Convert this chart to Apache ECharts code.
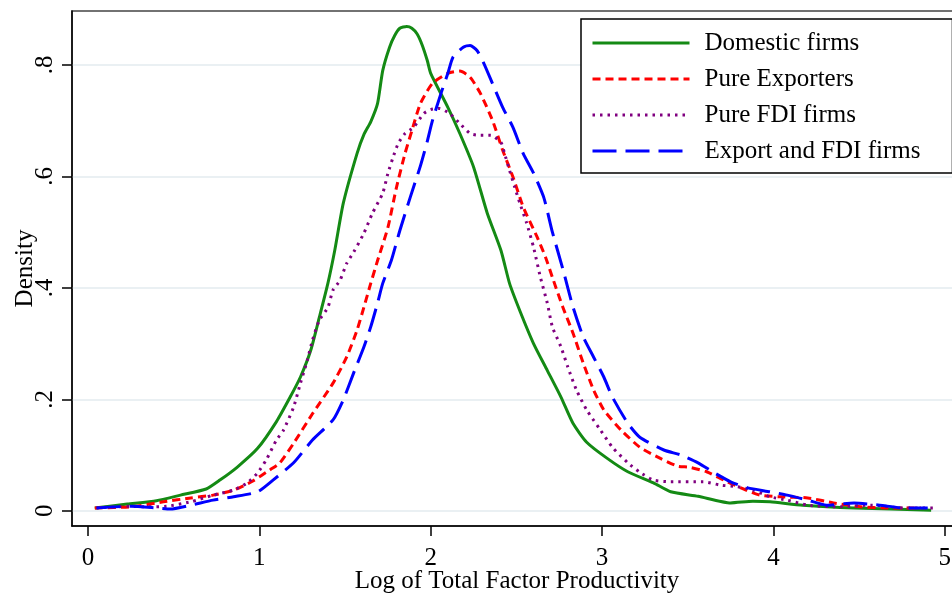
<!DOCTYPE html>
<html>
<head>
<meta charset="utf-8">
<script src="https://cdn.jsdelivr.net/npm/echarts@6/dist/echarts.min.js"></script>
<style>
html,body{margin:0;padding:0;background:#fff;}
#chart{width:952px;height:601px;}
</style>
</head>
<body>
<div id="chart"></div>
<script>
// ---- data ----
var seriesNames = ['Domestic firms', 'Pure Exporters', 'Pure FDI firms', 'Export and FDI firms'];

var domesticX = [0.04,0.23,0.40,0.54,0.69,0.77,0.87,0.99,1.10,1.18,1.24,1.30,1.35,1.40,1.44,1.49,1.57,1.61,1.65,1.69,1.72,1.76,1.79,1.82,1.86,1.89,1.92,1.95,1.98,2.00,2.10,2.17,2.25,2.33,2.41,2.46,2.52,2.60,2.68,2.76,2.83,2.91,3.03,3.15,3.30,3.40,3.56,3.75,3.88,3.98,4.17,4.47,4.92];
var domesticY = [0.005,0.012,0.018,0.028,0.039,0.055,0.078,0.112,0.160,0.204,0.240,0.288,0.347,0.408,0.467,0.552,0.641,0.675,0.698,0.731,0.790,0.832,0.853,0.866,0.869,0.866,0.856,0.836,0.808,0.785,0.724,0.677,0.617,0.534,0.467,0.408,0.359,0.300,0.252,0.204,0.157,0.123,0.094,0.070,0.050,0.034,0.026,0.014,0.017,0.016,0.010,0.005,0.001];

var exportersX = [0.04,0.25,0.44,0.60,0.73,0.85,0.96,1.06,1.12,1.20,1.31,1.43,1.51,1.57,1.61,1.65,1.69,1.75,1.80,1.85,1.89,1.94,2.01,2.10,2.17,2.23,2.29,2.36,2.42,2.48,2.54,2.62,2.67,2.71,2.77,2.83,2.89,2.95,3.01,3.11,3.22,3.34,3.44,3.51,3.61,3.71,3.81,3.92,4.04,4.20,4.35,4.51,4.66,4.86];
var exportersY = [0.005,0.007,0.016,0.023,0.028,0.037,0.053,0.073,0.086,0.121,0.174,0.229,0.276,0.324,0.365,0.408,0.449,0.508,0.580,0.641,0.682,0.731,0.767,0.785,0.789,0.778,0.749,0.701,0.647,0.599,0.545,0.492,0.455,0.419,0.366,0.319,0.265,0.217,0.181,0.145,0.114,0.094,0.080,0.078,0.070,0.055,0.041,0.028,0.025,0.023,0.014,0.007,0.005,0.005];

var fdiX = [0.05,0.25,0.34,0.46,0.60,0.73,0.85,0.93,0.99,1.04,1.10,1.14,1.20,1.24,1.28,1.31,1.35,1.40,1.43,1.47,1.51,1.55,1.61,1.66,1.72,1.75,1.78,1.81,1.85,1.90,1.96,2.00,2.05,2.11,2.17,2.23,2.28,2.35,2.41,2.43,2.46,2.49,2.52,2.56,2.60,2.64,2.68,2.71,2.76,2.80,2.85,2.91,2.99,3.06,3.15,3.22,3.30,3.40,3.59,3.69,3.79,3.88,3.98,4.08,4.20,4.37,4.57,4.76,4.93];
var fdiY = [0.005,0.008,0.007,0.008,0.016,0.028,0.037,0.050,0.068,0.091,0.127,0.144,0.186,0.229,0.270,0.306,0.342,0.365,0.396,0.413,0.444,0.464,0.498,0.534,0.570,0.605,0.634,0.659,0.677,0.688,0.713,0.720,0.722,0.713,0.695,0.677,0.674,0.674,0.661,0.642,0.611,0.581,0.552,0.516,0.473,0.419,0.373,0.330,0.294,0.258,0.217,0.181,0.145,0.114,0.086,0.069,0.055,0.052,0.052,0.046,0.043,0.037,0.025,0.019,0.010,0.007,0.010,0.005,0.005];

var bothX = [0.05,0.25,0.40,0.48,0.60,0.73,0.85,0.99,1.08,1.20,1.31,1.43,1.49,1.55,1.61,1.65,1.69,1.72,1.77,1.82,1.88,1.94,1.98,2.01,2.06,2.10,2.13,2.19,2.23,2.27,2.31,2.36,2.42,2.48,2.54,2.60,2.66,2.71,2.77,2.83,2.89,2.95,3.01,3.06,3.15,3.22,3.36,3.46,3.56,3.65,3.75,3.85,3.98,4.08,4.20,4.31,4.47,4.62,4.76,4.90];
var bothY = [0.005,0.008,0.005,0.003,0.010,0.019,0.025,0.034,0.055,0.086,0.127,0.163,0.199,0.247,0.294,0.330,0.373,0.408,0.449,0.503,0.562,0.619,0.663,0.700,0.749,0.785,0.814,0.832,0.835,0.826,0.803,0.767,0.724,0.688,0.641,0.606,0.562,0.500,0.435,0.366,0.312,0.276,0.240,0.204,0.157,0.132,0.109,0.100,0.086,0.069,0.052,0.041,0.034,0.028,0.019,0.010,0.014,0.010,0.005,0.005];

var xTicks = [0, 1, 2, 3, 4, 5];
var xTickLabels = ['0', '1', '2', '3', '4', '5'];
var yTicks = [0, 0.2, 0.4, 0.6, 0.8];
var yTickLabels = ['0', '.2', '.4', '.6', '.8'];

var xTitle = 'Log of Total Factor Productivity';
var yTitle = 'Density';

// ---- chart ----
function pairs(xs, ys) { return xs.map(function (x, i) { return [x, ys[i]]; }); }
var FONT = '"Liberation Serif", "Times New Roman", serif';

var chart = echarts.init(document.getElementById('chart'), null, { renderer: 'canvas' });

function lineSeries(name, xs, ys, color, type, width) {
  return {
    name: name, type: 'line', data: pairs(xs, ys),
    showSymbol: false, symbol: 'none', smooth: 0.2,
    lineStyle: { color: color, width: width, type: type, cap: 'butt', join: 'round' },
    itemStyle: { color: color },
    silent: true, animation: false
  };
}

var option = {
  animation: false,
  backgroundColor: '#ffffff',
  grid: {
    left: 72, top: 11, bottom: 75, right: -10,
    outerBoundsMode: 'none', containLabel: false,
    show: true, borderColor: '#444', borderWidth: 1.5, backgroundColor: '#fff'
  },
  legend: {
    orient: 'vertical',
    left: 581, top: 19,
    padding: [11, 32, 9, 10],
    itemWidth: 97, itemHeight: 14, itemGap: 10,
    borderColor: '#000', borderWidth: 1.5, backgroundColor: '#fff',
    itemStyle: { opacity: 0, borderWidth: 0 },
    lineStyle: { width: 3 },
    textStyle: { fontFamily: FONT, fontSize: 25, color: '#000', lineHeight: 26, padding: [0, 0, 0, 10] },
    data: seriesNames
  },
  xAxis: {
    type: 'value', min: -0.093, max: 5.1,
    name: xTitle, nameLocation: 'middle', nameGap: 43, nameMoveOverlap: false,
    nameTextStyle: { fontFamily: FONT, fontSize: 25, color: '#000' },
    axisLine: { show: true, onZero: false, lineStyle: { color: '#000', width: 1.5 } },
    axisTick: { show: true, length: 10, customValues: xTicks, lineStyle: { color: '#000', width: 1.5 } },
    axisLabel: {
      customValues: xTicks, margin: 20,
      fontFamily: FONT, fontSize: 25, color: '#000',
      formatter: function (v) { var i = xTicks.indexOf(v); return i >= 0 ? xTickLabels[i] : ''; }
    },
    splitLine: { show: false }
  },
  yAxis: {
    type: 'value', min: -0.0274, max: 0.8969,
    name: yTitle, nameLocation: 'middle', nameGap: 34, nameMoveOverlap: false,
    nameTextStyle: { fontFamily: FONT, fontSize: 25, color: '#000' },
    axisLine: { show: true, onZero: false, lineStyle: { color: '#000', width: 1.5 } },
    axisTick: { show: true, length: 10, customValues: yTicks, lineStyle: { color: '#000', width: 1.5 } },
    axisLabel: {
      customValues: yTicks, margin: 14, rotate: 90,
      fontFamily: FONT, fontSize: 25, color: '#000',
      formatter: function (v) {
        for (var i = 0; i < yTicks.length; i++) { if (Math.abs(yTicks[i] - v) < 1e-9) return yTickLabels[i]; }
        return '';
      }
    },
    splitLine: { show: true, lineStyle: { color: '#eaf0f3', width: 2 } }
  },
  series: [
    lineSeries(seriesNames[0], domesticX, domesticY, '#148a14', 'solid', 3),
    lineSeries(seriesNames[1], exportersX, exportersY, '#ff0000', [8, 5], 3),
    lineSeries(seriesNames[2], fdiX, fdiY, '#800080', [2.5, 5], 3),
    lineSeries(seriesNames[3], bothX, bothY, '#0000ff', [24, 9], 3)
  ]
};
chart.setOption(option);
</script>
</body>
</html>
